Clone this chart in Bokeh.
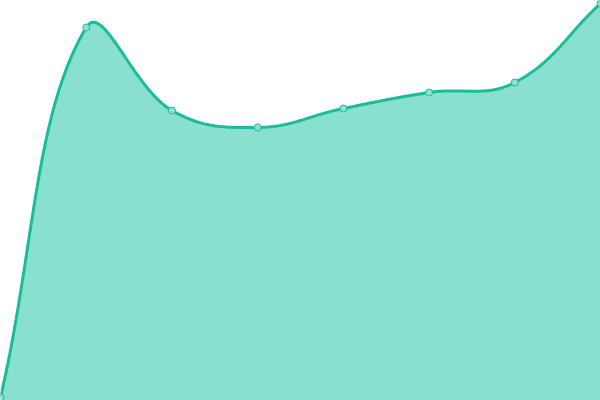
import numpy as np
from bokeh.plotting import figure
from bokeh.models import Range1d
from bokeh.embed import file_html
from bokeh.resources import INLINE

# data
categories = ["1", "2", "3", "4", "5", "6", "7", "8"]
values = [0.75, 93.25, 72.5, 68.25, 73.0, 77.0, 79.5, 99.25]

W, H = 600, 400
XMAX, YMAX = len(categories) - 1, 100.0
TENSION = 0.4

xs = np.arange(len(values), dtype=float)
ys = np.array(values, dtype=float)

# work in pixel-proportional space for the spline (Chart.js-like)
sx, sy = W / XMAX, H / YMAX
P = np.column_stack([xs * sx, ys * sy])
n = len(P)
cp_prev = np.zeros_like(P)
cp_next = np.zeros_like(P)
for i in range(n):
    prev = P[max(i - 1, 0)]
    cur = P[i]
    nxt = P[min(i + 1, n - 1)]
    d01 = np.hypot(*(cur - prev))
    d12 = np.hypot(*(nxt - cur))
    tot = d01 + d12
    s01 = d01 / tot if tot else 0
    s12 = d12 / tot if tot else 0
    cp_prev[i] = cur - TENSION * s01 * (nxt - prev)
    cp_next[i] = cur + TENSION * s12 * (nxt - prev)

curve = []
t = np.linspace(0, 1, 40)[:, None]
for i in range(n - 1):
    a, b, c, d = P[i], cp_next[i], cp_prev[i + 1], P[i + 1]
    seg = (1 - t) ** 3 * a + 3 * (1 - t) ** 2 * t * b + 3 * (1 - t) * t ** 2 * c + t ** 3 * d
    curve.append(seg if i == 0 else seg[1:])
curve = np.vstack(curve)
cx = curve[:, 0] / sx
cy = curve[:, 1] / sy

p = figure(width=W, height=H, output_backend="svg", toolbar_location=None,
           x_range=Range1d(0, XMAX), y_range=Range1d(0, YMAX),
           min_border=0)
p.axis.visible = False
p.grid.visible = False
p.outline_line_color = None
p.background_fill_color = "white"

p.varea(x=cx, y1=0, y2=cy, fill_color="#89e0cf", fill_alpha=1.0)
p.line(cx, cy, line_color="#1abc9c", line_width=3)
p.scatter(xs, ys, size=7, fill_color="#8ee0cf", line_color="#1abc9c", line_width=1)

open("out.html", "w").write(file_html(p, INLINE))
